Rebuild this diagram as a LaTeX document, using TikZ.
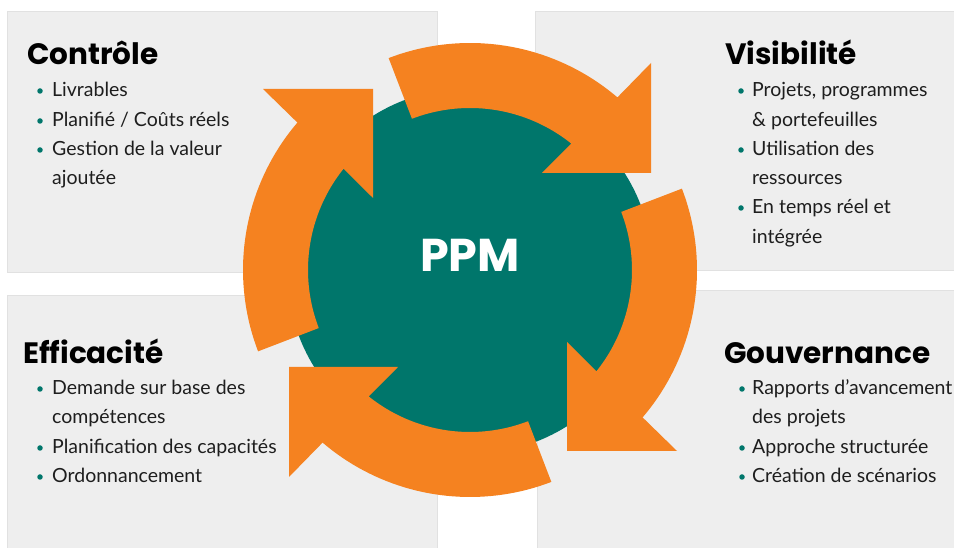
\documentclass[tikz,border=0pt]{standalone}
\usepackage{fontspec}
\setmainfont{Lato}
\newfontfamily\headfont{Poppins}
\definecolor{ppmorange}{RGB}{245,130,32}
\definecolor{ppmteal}{RGB}{0,118,107}
\definecolor{panelgray}{RGB}{238,238,238}
\definecolor{paneledge}{RGB}{225,225,225}
\definecolor{bodytext}{RGB}{30,30,30}
\begin{document}
\begin{tikzpicture}[x=1pt,y=1pt,
  panel/.style={fill=panelgray, draw=paneledge, line width=0.8pt},
  heading/.style={anchor=base west, inner sep=0pt, font=\headfont\bfseries\fontsize{29.5}{36}\selectfont, text=black},
  item/.style={anchor=base west, inner sep=0pt, font=\fontsize{19.5}{23}\selectfont, text=bodytext},
  dot/.style={circle, fill=ppmteal, inner sep=0pt, minimum size=5.5pt},
  arrowshape/.style={fill=ppmorange}
]
\useasboundingbox (0,0) rectangle (954,548);
\fill[white] (0,0) rectangle (954,548);
% panels
\path[panel] (7,276) rectangle (437,537);
\path[panel] (535,278) rectangle (960,537);
\path[panel] (7,-5) rectangle (437,253);
\path[panel] (537,-5) rectangle (960,258);
% core
\node[circle, fill=ppmteal, minimum size=366pt, inner sep=0pt] (core) at (470,277) {};
% arrows
\foreach \k in {0,1,2,3}{
  \begin{scope}[shift={(470,278)}, rotate=90*\k]
    \fill[arrowshape] plot[domain=111:49.5, samples=40] (\x:227) -- (181,207) -- (181,97) -- (72,97)
      -- plot[domain=51.3:111, samples=40] (\x:162) -- cycle;
  \end{scope}
}
\node[font=\headfont\bfseries\fontsize{46}{50}\selectfont, text=white, anchor=base, inner sep=0pt] (ppm) at (470,276) {PPM};
% Controle
\node[heading] (h1) at (27,483) {Contrôle};
\node[item] (a1) at (52,451) {Livrables};
\node[item] (a2) at (52,421) {Planifié / Coûts réels};
\node[item] (a3) at (52,392) {Gestion de la valeur};
\node[item] (a4) at (52,363) {ajoutée};
\node[dot] (da1) at (40,457) {};
\node[dot] (da2) at (40,427) {};
\node[dot] (da3) at (40,398) {};
% Visibilite
\node[heading] (h2) at (725,483) {Visibilité};
\node[item] (b1) at (752,451) {Projets, programmes};
\node[item] (b2) at (752,421) {\& portefeuilles};
\node[item] (b3) at (752,392) {Utilisation des};
\node[item] (b4) at (752,363) {ressources};
\node[item] (b5) at (752,334) {En temps réel et};
\node[item] (b6) at (752,304) {intégrée};
\node[dot] (db1) at (741,457) {};
\node[dot] (db3) at (741,398) {};
\node[dot] (db5) at (741,340) {};
% Efficacite
\node[heading] (h3) at (23,184) {Efficacité};
\node[item] (c1) at (52,153) {Demande sur base des};
\node[item] (c2) at (52,124) {compétences};
\node[item] (c3) at (52,94) {Planification des capacités};
\node[item] (c4) at (52,65) {Ordonnancement};
\node[dot] (dc1) at (40,159) {};
\node[dot] (dc3) at (40,100) {};
\node[dot] (dc4) at (40,71) {};
% Gouvernance
\node[heading] (h4) at (724,184) {Gouvernance};
\node[item] (e1) at (752,153) {Rapports d'avancement};
\node[item] (e2) at (752,124) {des projets};
\node[item] (e3) at (752,94) {Approche structurée};
\node[item] (e4) at (752,65) {Création de scénarios};
\node[dot] (de1) at (742,159) {};
\node[dot] (de3) at (742,100) {};
\node[dot] (de4) at (742,71) {};
\end{tikzpicture}
\end{document}
